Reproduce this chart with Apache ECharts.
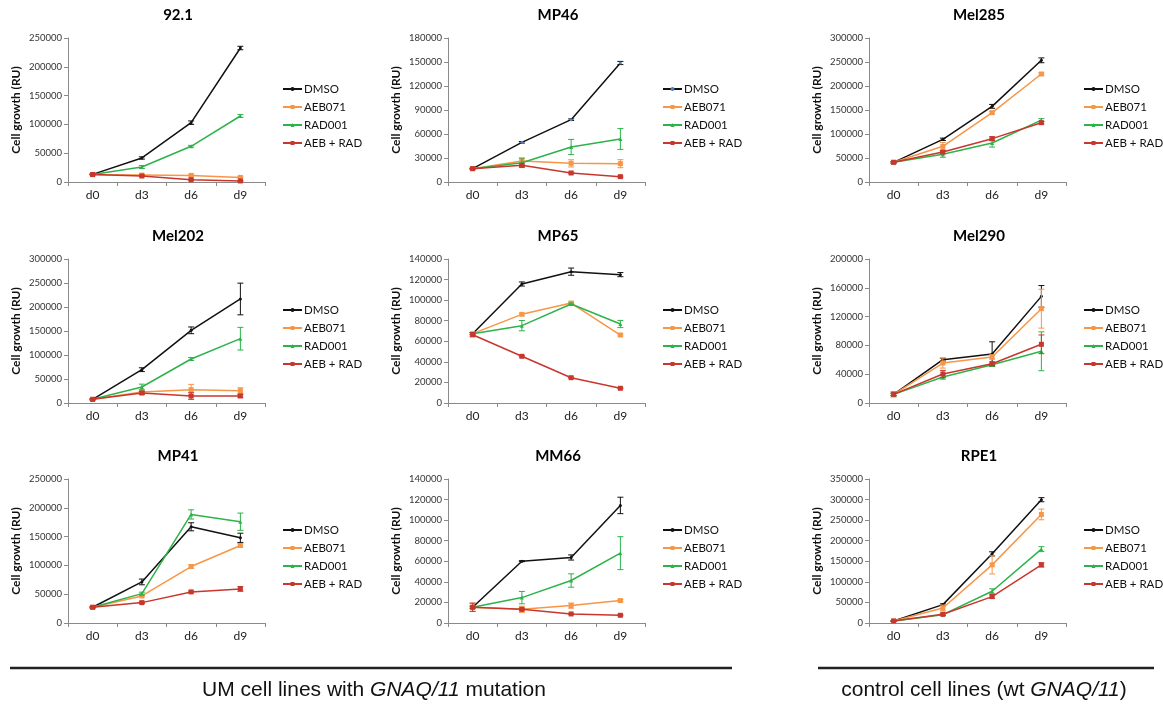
<!DOCTYPE html>
<html>
<head>
<meta charset="utf-8">
<script src="https://cdn.jsdelivr.net/npm/echarts@6/dist/echarts.min.js"></script>
<style>
  html, body { margin: 0; padding: 0; background: #ffffff; }
  #chart { width: 1163px; height: 705px; }
</style>
</head>
<body>
<div id="chart"></div>
<script>
// ---------------- DATA ----------------
const days = ['d0', 'd3', 'd6', 'd9'];
const treatments = ['DMSO', 'AEB071', 'RAD001', 'AEB + RAD'];
const panelNames = ['92.1', 'MP46', 'Mel285', 'Mel202', 'MP65', 'Mel290', 'MP41', 'MM66', 'RPE1'];
const yMax  = [250000, 180000, 300000, 300000, 140000, 200000, 250000, 140000, 350000];
const yStep = [50000, 30000, 50000, 50000, 20000, 40000, 50000, 20000, 50000];

// values: [DMSO, AEB071, RAD001, AEB + RAD], each over d0, d3, d6, d9
const v921 = [[13300, 41700, 103000, 232600], [12700, 12000, 11500, 8000], [13000, 26000, 62000, 114600], [13000, 10400, 4000, 1800]];
const e921 = [[500, 2000, 3000, 3000], [500, 1000, 1000, 1000], [500, 2500, 1500, 2500], [500, 1000, 1000, 500]];

const vMP46 = [[16700, 49600, 77900, 148750], [16700, 26250, 23300, 22900], [16700, 24000, 43750, 53750], [16700, 20800, 11250, 6700]];
const eMP46 = [[500, 1000, 1000, 2000], [500, 3000, 4500, 5000], [500, 6000, 9500, 13000], [500, 1500, 1000, 800]];

const vMel285 = [[41000, 88900, 157600, 253500], [41000, 74300, 144400, 225000], [41000, 57600, 81250, 129000], [41000, 62500, 90300, 123600]];
const eMel285 = [[1500, 2500, 4000, 5000], [1500, 8000, 2500, 2500], [1500, 6000, 8500, 3000], [1500, 3000, 4000, 2500]];

const vMel202 = [[7600, 69400, 151400, 216700], [7600, 22900, 27800, 25700], [7600, 33300, 91700, 134000], [7600, 20800, 14600, 14600]];
const eMel202 = [[1000, 4000, 7000, 33000], [1000, 4000, 11000, 6000], [1000, 6000, 3000, 23600], [1000, 3000, 7000, 3000]];

const vMP65 = [[67400, 115700, 127700, 124800], [67400, 86200, 97200, 66100], [67400, 75200, 96200, 76800], [66400, 45400, 24600, 14300]];
const eMP65 = [[1000, 2000, 3500, 2000], [1000, 1000, 1000, 1000], [1000, 5000, 1000, 3500], [2000, 500, 500, 500]];

const vMel290 = [[12000, 60200, 68000, 148100], [12000, 55500, 63900, 131000], [12000, 36100, 53200, 71800], [12000, 40300, 54600, 81500]];
const eMel290 = [[1500, 2000, 17000, 15000], [1500, 7000, 3000, 27000], [3500, 3000, 2000, 27000], [1500, 5000, 2500, 13000]];

const vMP41 = [[27300, 71300, 167000, 147900], [27300, 47000, 98000, 134600], [27300, 51000, 188500, 175800], [27300, 35400, 54000, 59200]];
const eMP41 = [[1000, 5000, 7000, 8000], [1000, 1500, 3000, 3000], [1000, 2500, 8000, 15000], [1000, 1500, 1500, 4000]];

const vMM66 = [[15300, 60100, 63700, 114300], [15300, 13300, 16900, 21800], [15300, 24700, 41300, 67900], [15300, 13300, 8800, 7500]];
const eMM66 = [[1000, 500, 2500, 8000], [4000, 3000, 2500, 1000], [1000, 6000, 6500, 16000], [4000, 1000, 500, 500]];

const vRPE1 = [[4900, 44700, 168100, 299700], [4900, 36500, 141300, 263900], [4900, 20300, 77100, 179500], [4900, 21100, 64200, 141300]];
const eRPE1 = [[1000, 2000, 5000, 5000], [1000, 7000, 22000, 13000], [1000, 2000, 6000, 6000], [1000, 2000, 4000, 5000]];

const panelValues = [v921, vMP46, vMel285, vMel202, vMP65, vMel290, vMP41, vMM66, vRPE1];
const panelErrors = [e921, eMP46, eMel285, eMel202, eMP65, eMel290, eMP41, eMM66, eRPE1];

// ---------------- LAYOUT / STYLE ----------------
const colLeft = [68, 448, 869];
const rowTop = [38, 259, 479];
const plotW = 197, plotH = 144;
const colors = ['#111111', '#F79646', '#2DB34A', '#C8372D'];
const symbols = ['circle', 'rect', 'triangle', 'rect'];
const symbolSizes = [3, 5, 4, 5];
const FONT = 'Lato, "Open Sans", "Liberation Sans", sans-serif';
const axisGray = '#8a8a8a';

const chart = echarts.init(document.getElementById('chart'), null, { renderer: 'canvas' });

const grids = [], xAxes = [], yAxes = [], series = [], legends = [], graphics = [];

function renderErr(params, api) {
  const x = api.value(0);
  const lo = api.coord([x, api.value(1)]);
  const hi = api.coord([x, api.value(2)]);
  const style = { stroke: api.visual('color'), lineWidth: 1 };
  const w = 3;
  return {
    type: 'group',
    children: [
      { type: 'line', shape: { x1: lo[0], y1: lo[1], x2: hi[0], y2: hi[1] }, style: style },
      { type: 'line', shape: { x1: lo[0] - w, y1: lo[1], x2: lo[0] + w, y2: lo[1] }, style: style },
      { type: 'line', shape: { x1: hi[0] - w, y1: hi[1], x2: hi[0] + w, y2: hi[1] }, style: style }
    ]
  };
}

panelNames.forEach((name, i) => {
  const col = i % 3, row = Math.floor(i / 3);
  const left = colLeft[col], top = rowTop[row];
  grids.push({ left: left, top: top, width: plotW, height: plotH });
  xAxes.push({
    type: 'category', gridIndex: i, data: days, boundaryGap: true,
    axisLine: { lineStyle: { color: axisGray, width: 1 } },
    axisTick: { show: true, length: 4, lineStyle: { color: axisGray } },
    axisLabel: { color: '#222', fontSize: 12, fontFamily: FONT, margin: 7 },
    splitLine: { show: false }
  });
  yAxes.push({
    type: 'value', gridIndex: i, min: 0, max: yMax[i], interval: yStep[i],
    axisLine: { show: true, lineStyle: { color: axisGray, width: 1 } },
    axisTick: { show: true, length: 4, lineStyle: { color: axisGray } },
    axisLabel: { color: '#333', fontSize: 9.5, fontFamily: FONT, margin: 6, formatter: v => String(v) },
    splitLine: { show: false },
    name: 'Cell growth (RU)', nameLocation: 'middle', nameGap: 46, nameRotate: 90,
    nameTextStyle: { color: '#111', fontSize: 12, fontWeight: 'bold', fontFamily: FONT }
  });

  const vals = panelValues[i], errs = panelErrors[i];
  treatments.forEach((t, k) => {
    const markerColor = (name === 'MP46' && k === 0) ? '#4F81BD' : colors[k];
    series.push({
      name: t, type: 'line', xAxisIndex: i, yAxisIndex: i,
      data: vals[k], symbol: symbols[k], symbolSize: symbolSizes[k], showSymbol: true,
      lineStyle: { color: colors[k], width: 1.5 },
      itemStyle: { color: markerColor, borderWidth: 0 },
      animation: false, z: 3 + k
    });
  });
  treatments.forEach((t, k) => {
    const errData = vals[k].map((v, j) => [j, v - errs[k][j], v + errs[k][j]]);
    series.push({
      name: t + ' error', type: 'custom', xAxisIndex: i, yAxisIndex: i,
      renderItem: renderErr, data: errData, encode: { x: 0, y: [1, 2] },
      itemStyle: { color: colors[k] }, animation: false, z: 3 + k, silent: true
    });
  });

  legends.push({
    orient: 'vertical', left: left + 214, top: top + 44, padding: 0,
    itemWidth: 19, itemHeight: 5, itemGap: 4,
    data: treatments.map((t, k) => ({ name: t, itemStyle: { color: (name === 'MP46' && k === 0) ? '#4F81BD' : colors[k] } })),
    textStyle: { color: '#111', fontSize: 11.5, fontFamily: FONT, lineHeight: 14, padding: [0, 0, 0, -3] },
    selectedMode: false
  });

  graphics.push({
    type: 'text', x: left + 110, y: top - 23,
    style: { text: name, fill: '#000', font: 'bold 15px ' + FONT, align: 'center', verticalAlign: 'middle' }
  });
});

// bottom group lines and captions
const capFont = '21px "Liberation Sans", Arial, sans-serif';
graphics.push(
  { type: 'line', shape: { x1: 10, y1: 668, x2: 732, y2: 668 }, style: { stroke: '#222', lineWidth: 2.5 } },
  { type: 'line', shape: { x1: 818, y1: 668, x2: 1154, y2: 668 }, style: { stroke: '#222', lineWidth: 2.5 } },
  {
    type: 'text', x: 374, y: 690,
    style: {
      text: '{n|UM cell lines with }{i|GNAQ/11}{n| mutation}',
      align: 'center', verticalAlign: 'middle',
      rich: {
        n: { font: capFont, fill: '#111' },
        i: { font: 'italic ' + capFont, fill: '#111' }
      }
    }
  },
  {
    type: 'text', x: 984, y: 690,
    style: {
      text: '{n|control cell lines (wt }{i|GNAQ/11}{n|)}',
      align: 'center', verticalAlign: 'middle',
      rich: {
        n: { font: capFont, fill: '#111' },
        i: { font: 'italic ' + capFont, fill: '#111' }
      }
    }
  }
);

chart.setOption({
  backgroundColor: '#ffffff',
  animation: false,
  grid: grids,
  xAxis: xAxes,
  yAxis: yAxes,
  legend: legends,
  series: series,
  graphic: graphics
});
</script>
</body>
</html>
